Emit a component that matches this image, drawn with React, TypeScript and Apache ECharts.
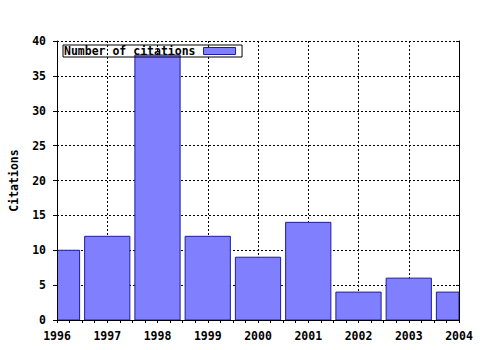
import React, { useEffect, useRef } from "react";
import * as echarts from "echarts";

const years = [1996, 1997, 1998, 1999, 2000, 2001, 2002, 2003, 2004];
const citations = [10, 12, 38, 12, 9, 14, 4, 6, 4];
const seriesName = "Number of citations";
const yAxisName = "Citations";

const FONT = "'DejaVu Sans Mono', 'Liberation Mono', monospace";
const FILL = "#8080ff";
const EDGE = "#1c1ca0";

export default function App() {
  const ref = useRef<HTMLDivElement>(null);
  useEffect(() => {
    if (!ref.current) return;
    const chart = echarts.init(ref.current, null, { renderer: "svg" });
    const data = years.map((y, i) => [y, citations[i]]);
    const labelStyle = { color: "#000", fontFamily: FONT, fontWeight: "bold" as const, fontSize: 11.5 };
    const gridRect = { left: 57, right: 21, top: 41, bottom: 30, outerBoundsMode: "none" as const, containLabel: false };
    const xBase = { type: "value" as const, min: 1996, max: 2004, interval: 1 };
    const yBase = { type: "value" as const, min: 0, max: 40, interval: 5 };
    const line = { show: true, lineStyle: { color: "#000", width: 1 } };
    const dash = { color: "#000", type: [2, 2], width: 1 };
    chart.setOption({
      animation: false,
      backgroundColor: "#fff",
      grid: [
        { ...gridRect },
        { ...gridRect },
      ],
      legend: {
        show: true,
        left: 63,
        top: 45,
        align: "right",
        icon: "rect",
        itemWidth: 32,
        itemHeight: 7,
        borderColor: "#000",
        borderWidth: 1,
        borderRadius: 0,
        padding: [0, 6, 0, 1],
        textStyle: { ...labelStyle, padding: [0, 3, 0, 0], lineHeight: 12 },
        itemStyle: { color: FILL, borderColor: EDGE, borderWidth: 1 },
        data: [seriesName],
      },
      xAxis: [
        {
          ...xBase,
          gridIndex: 0,
          z: 0,
          axisLine: { show: false },
          axisTick: { show: false },
          axisLabel: { show: false },
          splitLine: { show: true, lineStyle: dash },
        },
        {
          ...xBase,
          gridIndex: 1,
          position: "bottom",
          z: 5,
          axisLine: line,
          axisTick: { show: true, inside: false, length: 3, lineStyle: { color: "#000" } },
          minorTick: { show: true, splitNumber: 4, length: 3, lineStyle: { color: "#000" } },
          axisLabel: { ...labelStyle, margin: 10, hideOverlap: false, formatter: (v: number) => String(v) },
          splitLine: { show: false },
        },
        {
          ...xBase,
          gridIndex: 1,
          position: "top",
          z: 5,
          axisLine: line,
          axisTick: { show: true, inside: true, length: 3, lineStyle: { color: "#000" } },
          minorTick: { show: true, splitNumber: 4, length: 3, lineStyle: { color: "#000" } },
          axisLabel: { show: false },
          splitLine: { show: false },
        },
      ],
      yAxis: [
        {
          ...yBase,
          gridIndex: 0,
          z: 0,
          axisLine: { show: false },
          axisTick: { show: false },
          axisLabel: { show: false },
          splitLine: { show: true, lineStyle: dash },
        },
        {
          ...yBase,
          gridIndex: 1,
          position: "left",
          z: 5,
          name: yAxisName,
          nameLocation: "middle",
          nameGap: 37,
          nameTextStyle: labelStyle,
          axisLine: line,
          axisTick: { show: true, inside: false, length: 4, lineStyle: { color: "#000" } },
          axisLabel: { ...labelStyle, margin: 11, hideOverlap: false },
          splitLine: { show: false },
        },
        {
          ...yBase,
          gridIndex: 1,
          position: "right",
          z: 5,
          axisLine: line,
          axisTick: { show: true, inside: true, length: 3, lineStyle: { color: "#000" } },
          axisLabel: { show: false },
          splitLine: { show: false },
        },
      ],
      series: [
        {
          name: seriesName,
          type: "custom",
          xAxisIndex: 1,
          yAxisIndex: 1,
          clip: true,
          z: 2,
          itemStyle: { color: FILL, borderColor: EDGE, borderWidth: 1 },
          encode: { x: 0, y: 1 },
          data,
          renderItem: (params: any, api: any) => {
            const x = api.value(0);
            const y = api.value(1);
            const p0 = api.coord([x - 0.45, y]);
            const p1 = api.coord([x + 0.45, 0]);
            const shape = echarts.graphic.clipRectByRect(
              { x: p0[0], y: p0[1], width: p1[0] - p0[0], height: p1[1] - p0[1] },
              {
                x: params.coordSys.x,
                y: params.coordSys.y,
                width: params.coordSys.width,
                height: params.coordSys.height,
              }
            );
            return {
              type: "rect",
              shape,
              style: { fill: FILL, stroke: EDGE, lineWidth: 1 },
            };
          },
        },
      ],
    });
    return () => chart.dispose();
  }, []);
  return <div ref={ref} style={{ width: 480, height: 350, position: "absolute", left: 0, top: 0 }} />;
}
